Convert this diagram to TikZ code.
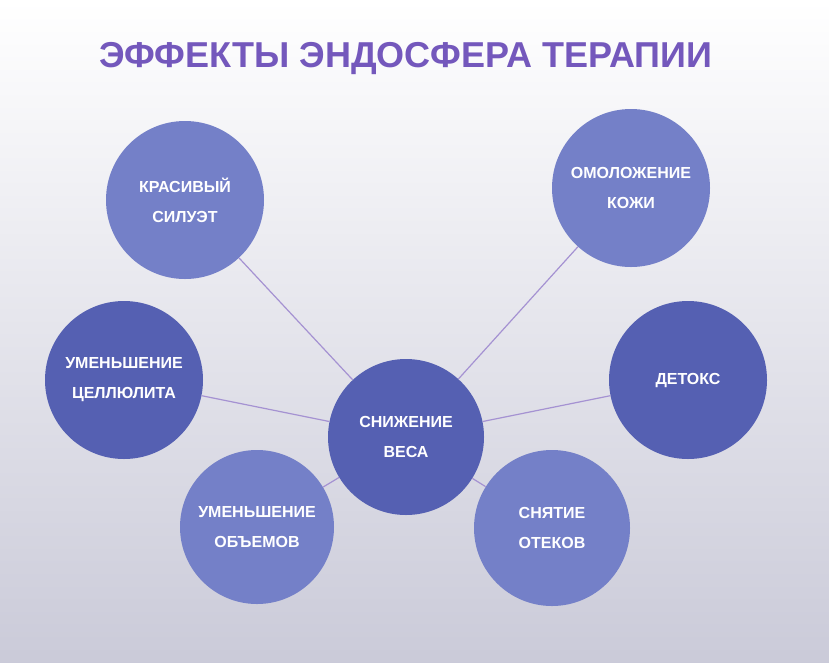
\documentclass[tikz,border=0pt]{standalone}
\usepackage{fontspec}
\setmainfont{Liberation Sans}
\begin{document}
\begin{tikzpicture}[x=1pt,y=-1pt,
  c/.style={circle,minimum size=158pt,inner sep=0pt,align=center,text=white,font=\bfseries\fontsize{16}{30}\selectfont},
  light/.style={c,fill=lightc},dark/.style={c,fill=darkc},
  ln/.style={draw=linec,line width=1.2pt}]
\definecolor{lightc}{HTML}{7480C8}
\definecolor{darkc}{HTML}{5560B2}
\definecolor{linec}{HTML}{A592D2}
\definecolor{titlec}{HTML}{7458BC}
\shade[top color=white,bottom color=white!92!blue!70!gray] (0,0) rectangle (829,662);
\useasboundingbox (0,0) rectangle (829,662);
\node (t) [text=titlec,font=\bfseries\fontsize{36}{40}\selectfont] at (406,59) {ЭФФЕКТЫ ЭНДОСФЕРА ТЕРАПИИ};
\node (m) [dark,minimum size=156pt] at (406,437) {СНИЖЕНИЕ\\ВЕСА};
\node (a) [light] at (185,200) {КРАСИВЫЙ\\СИЛУЭТ};
\node (b) [light] at (631,188) {ОМОЛОЖЕНИЕ\\КОЖИ};
\node (c) [dark] at (124,380) {УМЕНЬШЕНИЕ\\ЦЕЛЛЮЛИТА};
\node (d) [dark] at (688,380) {ДЕТОКС};
\node (e) [light,minimum size=154pt] at (257,527) {УМЕНЬШЕНИЕ\\ОБЪЕМОВ};
\node (f) [light,minimum size=156pt] at (552,528) {СНЯТИЕ\\ОТЕКОВ};
\foreach \n in {a,b,c,d,e,f} \draw[ln] (m) -- (\n);
\end{tikzpicture}
\end{document}
